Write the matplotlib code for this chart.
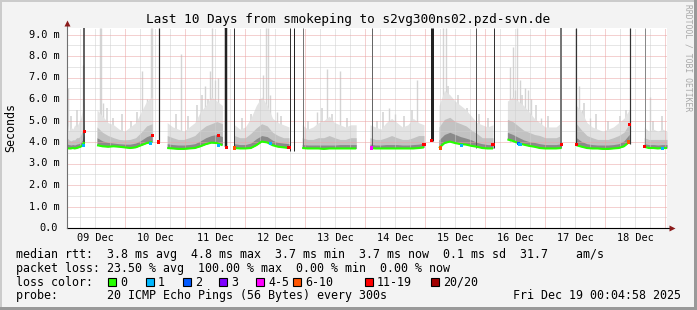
import numpy as np
import matplotlib
matplotlib.use("Agg")
import matplotlib.pyplot as plt
from matplotlib.patches import Rectangle
from matplotlib.transforms import blended_transform_factory

# x axis is days counted from 09 Dec 00:00
day_labels = ["09 Dec", "10 Dec", "11 Dec", "12 Dec", "13 Dec",
              "14 Dec", "15 Dec", "16 Dec", "17 Dec", "18 Dec"]

# blocks of data between the outages
seg_start = [0.03, 0.53, 1.70, 2.82, 3.95, 5.08, 6.23, 7.37, 8.52, 9.65]
seg_end   = [0.32, 1.45, 2.62, 3.73, 4.85, 5.98, 7.13, 8.27, 9.40, 10.03]

# median rtt (ms)
median = [
    [3.72, 3.70, 3.70, 3.72, 3.70, 3.72, 3.75, 3.78, 3.85, 4.00],
    [3.85, 3.80, 3.78, 3.80, 3.78, 3.75, 3.72, 3.75, 3.85, 3.95, 4.00],
    [3.72, 3.70, 3.68, 3.68, 3.70, 3.72, 3.80, 3.90, 3.97, 3.95, 3.85],
    [3.72, 3.70, 3.70, 3.72, 3.85, 4.02, 3.98, 3.85, 3.78, 3.75, 3.72],
    [3.72, 3.70, 3.70, 3.70, 3.68, 3.70, 3.70, 3.70, 3.70, 3.70, 3.70],
    [3.72, 3.70, 3.70, 3.70, 3.70, 3.70, 3.70, 3.70, 3.70, 3.72, 3.75],
    [3.72, 3.95, 4.02, 3.95, 3.90, 3.88, 3.82, 3.78, 3.72, 3.70, 3.70],
    [4.12, 4.05, 3.95, 3.88, 3.82, 3.78, 3.72, 3.70, 3.70, 3.70, 3.72],
    [3.85, 3.78, 3.72, 3.70, 3.70, 3.68, 3.68, 3.70, 3.72, 3.80, 4.00],
    [3.78, 3.72, 3.72, 3.70, 3.72, 3.72],
]
# upper edges of the smoke bands (ms)
smoke_dark = [
    [3.90, 3.88, 3.86, 3.88, 3.86, 3.90, 3.92, 3.98, 4.10, 4.40],
    [4.20, 4.05, 3.98, 3.95, 3.92, 3.90, 3.90, 3.95, 4.08, 4.25, 4.35],
    [3.92, 3.88, 3.86, 3.86, 3.88, 3.92, 4.05, 4.20, 4.30, 4.35, 4.25],
    [3.92, 3.88, 3.88, 3.95, 4.15, 4.30, 4.25, 4.08, 3.98, 3.95, 3.92],
    [3.88, 3.86, 3.86, 3.86, 3.86, 3.86, 3.86, 3.88, 3.88, 3.88, 3.88],
    [3.90, 3.86, 3.86, 3.88, 3.88, 3.88, 3.86, 3.86, 3.88, 3.90, 3.95],
    [4.10, 4.35, 4.45, 4.35, 4.25, 4.18, 4.10, 3.98, 3.92, 3.88, 3.88],
    [4.45, 4.35, 4.22, 4.10, 4.02, 3.98, 3.92, 3.88, 3.88, 3.88, 3.92],
    [4.20, 4.02, 3.92, 3.88, 3.86, 3.86, 3.86, 3.88, 3.92, 4.05, 4.35],
    [3.92, 3.88, 3.88, 3.86, 3.88, 3.88],
]
smoke_mid = [
    [4.20, 4.10, 4.05, 4.10, 4.10, 4.20, 4.20, 4.30, 4.55, 5.00],
    [4.70, 4.45, 4.30, 4.20, 4.12, 4.10, 4.12, 4.20, 4.45, 4.75, 4.85],
    [4.30, 4.20, 4.12, 4.12, 4.20, 4.30, 4.55, 4.75, 4.85, 4.95, 4.85],
    [4.30, 4.20, 4.20, 4.40, 4.65, 4.85, 4.75, 4.45, 4.30, 4.20, 4.20],
    [4.20, 4.12, 4.12, 4.20, 4.20, 4.30, 4.20, 4.12, 4.12, 4.20, 4.20],
    [4.20, 4.12, 4.12, 4.20, 4.30, 4.20, 4.12, 4.12, 4.20, 4.30, 4.30],
    [4.70, 5.05, 5.15, 4.95, 4.85, 4.75, 4.55, 4.40, 4.20, 4.20, 4.20],
    [5.05, 4.95, 4.75, 4.55, 4.45, 4.35, 4.30, 4.20, 4.20, 4.20, 4.30],
    [4.85, 4.55, 4.30, 4.20, 4.12, 4.12, 4.12, 4.20, 4.30, 4.45, 4.85],
    [4.20, 4.12, 4.12, 4.12, 4.12, 4.12],
]
smoke_top = [
    [4.90, 4.50, 4.70, 4.60, 4.80, 4.70, 4.90, 5.10, 5.50, 5.90],
    [5.50, 5.20, 4.90, 4.80, 4.60, 4.50, 4.70, 4.90, 5.40, 5.90, 6.10],
    [4.90, 4.70, 4.60, 4.50, 4.70, 4.90, 5.40, 5.70, 6.10, 5.90, 5.70],
    [4.80, 4.60, 4.70, 5.10, 5.70, 6.10, 5.70, 5.10, 4.90, 4.80, 4.70],
    [4.80, 4.60, 4.70, 4.90, 5.00, 5.20, 4.90, 4.80, 4.70, 4.80, 4.80],
    [4.80, 4.70, 4.60, 4.90, 5.10, 4.90, 4.70, 4.80, 5.10, 4.90, 4.80],
    [5.70, 6.40, 6.20, 5.90, 5.70, 5.50, 5.20, 4.90, 4.80, 4.70, 4.80],
    [5.90, 6.10, 5.90, 5.70, 5.40, 5.10, 4.90, 4.70, 4.70, 4.70, 4.90],
    [5.70, 5.40, 4.90, 4.70, 4.60, 4.50, 4.60, 4.70, 4.90, 5.10, 5.50],
    [4.70, 4.50, 4.60, 4.50, 4.60, 4.50],
]

# single tall pings above the smoke
spike_day = [0.04, 0.30, 0.575, 0.60, 0.63, 1.28, 1.37, 1.43, 1.445, 1.93,
             2.33, 2.42, 2.45, 2.50, 2.55, 3.30, 3.35, 3.38, 3.42, 3.53,
             4.20, 4.37, 4.58, 5.40, 5.50, 5.87, 6.30, 6.35, 6.42, 6.47,
             7.42, 7.47, 7.50, 7.53, 7.58, 7.67, 7.72, 7.77, 7.93,
             8.57, 8.62, 8.75, 9.75]
spike_top = [6.5, 7.6, 9.3, 9.3, 5.8, 7.3, 6.0, 9.3, 9.3, 8.1,
             6.6, 7.3, 9.3, 6.9, 7.0, 7.1, 9.3, 9.3, 6.2, 5.4,
             5.4, 7.4, 7.3, 5.6, 5.3, 6.9, 9.3, 9.3, 6.0, 5.7,
             7.5, 8.4, 6.4, 9.3, 6.9, 6.5, 6.4, 6.0, 5.1,
             6.6, 5.5, 5.1, 6.1]
# shorter ones that make the ragged top of the smoke
small_day = [0.10, 0.20, 0.70, 0.80, 0.95, 1.10, 1.20, 1.85, 2.05, 2.20,
             2.28, 2.38, 2.58, 2.95, 3.10, 3.20, 3.25, 3.60, 4.05, 4.28,
             4.45, 4.70, 5.20, 5.30, 5.65, 5.78, 6.38, 6.55, 6.70, 6.90,
             7.05, 7.62, 7.85, 8.05, 8.65, 8.85, 9.05, 9.25, 9.35, 9.80,
             9.95]
small_top = [5.2, 5.5, 5.6, 5.1, 5.3, 5.0, 5.4, 5.3, 5.2, 5.7,
             6.2, 6.0, 5.6, 5.1, 5.3, 5.6, 6.0, 5.2, 5.0, 5.6,
             5.3, 5.1, 5.0, 5.4, 5.2, 5.5, 6.6, 6.2, 5.6, 5.3,
             5.1, 6.2, 5.7, 5.2, 5.8, 5.3, 5.0, 5.2, 5.5, 5.0,
             5.2]

# dark full-height lines at the outage edges
edge_day    = [0.32, 1.555, 2.68, 2.82, 3.75, 3.82, 3.97, 5.11, 6.11,
               6.85, 7.14, 8.26, 8.51, 9.405, 9.655]
edge_bottom = [3.80, 4.00, 3.75, 3.70, 3.60, 3.60, 3.70, 3.70, 4.05,
               3.70, 3.70, 3.70, 3.85, 3.90, 3.75]
edge_shade  = ["#333333", "#222222", "#222222", "#333333", "#333333",
               "#222222", "#777777", "#666666", "#222222", "#555555",
               "#333333", "#777777", "#333333", "#333333", "#888888"]
edge_px     = [1.5, 1.2, 2.5, 1.0, 1.0, 1.0, 1.0, 1.0, 3.0,
               1.0, 1.0, 2.0, 1.2, 1.2, 1.0]

# median points drawn in a loss colour
loss_day = [0.30, 0.32, 1.42, 1.45, 1.555, 2.55, 2.56, 2.69, 2.82, 3.42,
            3.73, 5.10, 5.98, 6.11, 6.25, 6.60, 7.13, 7.55, 7.58, 8.27,
            8.52, 9.39, 9.40, 9.65, 9.95]
loss_rtt = [3.83, 4.48, 3.95, 4.30, 4.00, 3.85, 4.30, 3.73, 3.72, 3.95,
            3.75, 3.72, 3.90, 4.05, 3.72, 3.82, 3.90, 3.92, 3.90, 3.90,
            3.90, 4.00, 4.80, 3.80, 3.70]
loss_col = ["#00b8ff", "#ff0000", "#00b8ff", "#ff0000", "#ff0000",
            "#00b8ff", "#ff0000", "#ff0000", "#ff5500", "#00b8ff",
            "#ff0000", "#ff00ff", "#ff0000", "#ff0000", "#ff5500",
            "#00b8ff", "#ff0000", "#0059ff", "#00b8ff", "#ff0000",
            "#ff0000", "#ff5500", "#ff0000", "#ff0000", "#00b8ff"]

legend_names  = ["0", "1", "2", "3", "4-5", "6-10", "11-19", "20/20"]
legend_colors = ["#26ff00", "#00b8ff", "#0059ff", "#7e00ff",
                 "#ff00ff", "#ff5500", "#ff0000", "#a10000"]

W, H = 697, 310
X0, X1, Y0, Y1 = 67, 667, 228, 28
YMAX = (Y0 - Y1) / 21.5
MONO = "DejaVu Sans Mono"

fig = plt.figure(figsize=(W / 100, H / 100), dpi=100)
fig.patch.set_facecolor("#f3f3f3")
ax = fig.add_axes([X0 / W, 1 - Y0 / H, (X1 - X0) / W, (Y0 - Y1) / H])
ax.set_facecolor("white")
ax.set_xlim(0.03, 10.03)
ax.set_ylim(0, YMAX)
for s in ax.spines.values():
    s.set_visible(False)
ax.set_xticks([])
ax.set_yticks([])

# smoke
ax.vlines(spike_day, 4.0, spike_top, color="#d4d4d4", lw=1.0, zorder=1.5)
ax.vlines(small_day, 4.0, small_top, color="#dcdcdc", lw=1.4, zorder=1.6)
for i in range(len(seg_start)):
    t = np.linspace(seg_start[i], seg_end[i], len(median[i]))
    ax.fill_between(t, median[i], smoke_top[i], color="#e3e3e3", lw=0, zorder=2)
    ax.fill_between(t, median[i], smoke_mid[i], color="#c2c2c2", lw=0, zorder=3)
    ax.fill_between(t, median[i], smoke_dark[i], color="#8a8a8a", lw=0, zorder=4)

# grid (rrdtool draws it on top of the areas)
dots = (0, (1, 1))
for k in range(1, 41):
    d = k * 0.25
    if k % 4:
        ax.axvline(d, color="#cfcfcf", lw=0.72, ls=dots, zorder=5)
for k in range(1, 19):
    v = k * 0.5
    if k % 2:
        ax.axhline(v, color="#cfcfcf", lw=0.72, ls=dots, zorder=5)
for d in range(1, 11):
    ax.axvline(d, color="#eba3a3", lw=0.72, ls=dots, zorder=5)
for v in range(1, 10):
    ax.axhline(v, color="#eba3a3", lw=0.72, ls=dots, zorder=5)

for i in range(len(edge_day)):
    ax.vlines(edge_day[i], edge_bottom[i], YMAX, color=edge_shade[i],
              lw=edge_px[i] * 0.72, zorder=6)

for i in range(len(seg_start)):
    t = np.linspace(seg_start[i], seg_end[i], len(median[i]))
    ax.plot(t, median[i], color="#26ff00", lw=1.5, zorder=7,
            solid_capstyle="butt")
ax.scatter(loss_day, loss_rtt, c=loss_col, marker="s", s=5, lw=0, zorder=8)

# axes lines and arrows
ax.plot([0, 1.0 + 3 / 600], [0, 0], transform=ax.transAxes, color="black",
        lw=0.8, clip_on=False, zorder=9)
ax.plot([0, 0], [0, 1.0 + 3 / 200], transform=ax.transAxes, color="#707070",
        lw=0.8, clip_on=False, zorder=9)
ax.plot([1.0 + 5 / 600], [0], transform=ax.transAxes, marker=">", ms=4,
        color="#8b1a1a", mec="none", clip_on=False, zorder=9)
ax.plot([0], [1.0 + 5 / 200], transform=ax.transAxes, marker="^", ms=4,
        color="#8b1a1a", mec="none", clip_on=False, zorder=9)

# tick labels
xt = blended_transform_factory(ax.transData, ax.transAxes)
for i, lab in enumerate(day_labels):
    ax.text(i + 0.5, -9.7 / 200, lab, transform=xt, ha="center", va="center",
            family=MONO, size=7.35)
yt = blended_transform_factory(ax.transAxes, ax.transData)
for v in range(0, 10):
    lab = "%.1f m" % v if v else "0.0"
    ax.text(-7 / 600 if v else -9 / 600, v, lab, transform=yt, ha="right",
            va="center", family=MONO, size=7.35)

fig.text(11 / W, 1 - 127 / H, "Seconds", rotation=90, ha="center",
         va="center", family=MONO, size=8.4)
fig.text(348.5 / W, 1 - 19 / H,
         "Last 10 Days from smokeping to s2vg300ns02.pzd-svn.de",
         ha="center", va="center", family=MONO, size=9.2)
fig.text(688 / W, 1 - 58 / H, "RRDTOOL / TOBI OETIKER", rotation=270,
         ha="center", va="center", family=MONO, size=5.8, color="#a8a8a8")

# legend
lx = 16 / W
rows = [
    "median rtt:  3.8 ms avg  4.8 ms max  3.7 ms min  3.7 ms now  0.1 ms sd  31.7    am/s",
    "packet loss: 23.50 % avg  100.00 % max  0.00 % min  0.00 % now",
    "loss color:",
    "probe:       20 ICMP Echo Pings (56 Bytes) every 300s",
]
row_y = [254.3, 268.3, 282.3, 295.7]
for txt, y in zip(rows, row_y):
    fig.text(lx, 1 - y / H, txt, ha="left", va="center", family=MONO, size=8.4)
fig.text(681 / W, 1 - 295.7 / H, "Fri Dec 19 00:04:58 2025", ha="right",
         va="center", family=MONO, size=8.4)

box_x = [108.3, 145.7, 182.7, 219.3, 256, 293.3, 365, 431]
for bx, name, col in zip(box_x, legend_names, legend_colors):
    fig.add_artist(Rectangle((bx / W, 1 - 286.3 / H), 8 / W, 8 / H,
                             transform=fig.transFigure, facecolor=col,
                             edgecolor="black", lw=0.8))
    fig.text((bx + 12) / W, 1 - 282.3 / H, name, ha="left", va="center",
             family=MONO, size=8.4)

# frame shading
fig.add_artist(Rectangle((0, 0), 2 / W, 1, transform=fig.transFigure,
                         facecolor="#cbcbcb", lw=0))
fig.add_artist(Rectangle((0, 1 - 2 / H), 1, 2 / H, transform=fig.transFigure,
                         facecolor="#cbcbcb", lw=0))
fig.add_artist(Rectangle((1 - 3 / W, 0), 3 / W, 1, transform=fig.transFigure,
                         facecolor="#999999", lw=0))
fig.add_artist(Rectangle((0, 0), 1, 3 / H, transform=fig.transFigure,
                         facecolor="#999999", lw=0))

fig.savefig("out.png", dpi=100, facecolor=fig.get_facecolor())
